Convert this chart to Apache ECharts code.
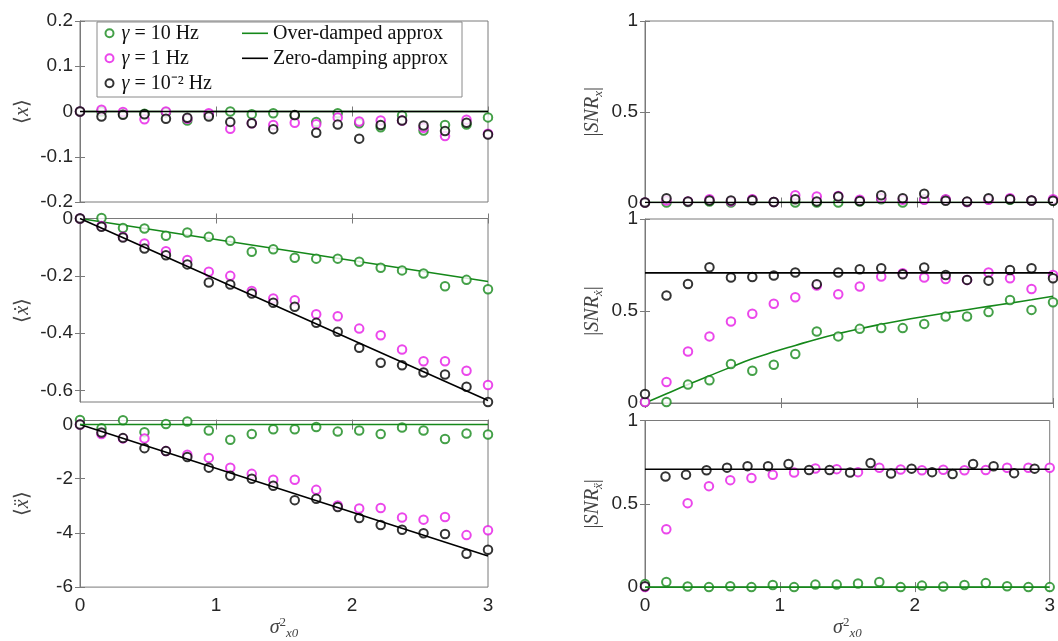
<!DOCTYPE html>
<html>
<head>
<meta charset="utf-8">
<script src="https://cdn.jsdelivr.net/npm/echarts@6/dist/echarts.min.js"></script>
<style>html,body{margin:0;padding:0;background:#fff;}#c{width:1058px;height:641px;}</style>
</head>
<body>
<div id="c"></div>
<script>
// x grid (sigma^2_x0) used by most series
const xGrid = [0,0.158,0.316,0.474,0.632,0.789,0.947,1.105,1.263,1.421,1.579,1.737,1.895,2.053,2.211,2.368,2.526,2.684,2.842,3];
// x grid of the gamma=1e-2 series in the |SNR_xddot| panel
const xGridSnrAccBlack = [0,0.152,0.304,0.456,0.608,0.76,0.912,1.064,1.216,1.368,1.52,1.672,1.824,1.976,2.128,2.28,2.432,2.584,2.736,2.888];
const xLine = [0, 3];

// <x>
const meanX_g10  = [0,0,-0.005,-0.005,-0.002,-0.02,-0.007,0,-0.006,-0.004,-0.009,-0.023,-0.004,-0.026,-0.035,-0.009,-0.042,-0.03,-0.029,-0.013];
const meanX_g1   = [0,0.004,-0.001,-0.017,0,-0.016,-0.004,-0.038,-0.026,-0.03,-0.025,-0.028,-0.013,-0.022,-0.02,-0.02,-0.036,-0.054,-0.018,-0.049];
const meanX_g001 = [0,-0.011,-0.007,-0.006,-0.016,-0.014,-0.011,-0.023,-0.026,-0.039,-0.008,-0.047,-0.029,-0.06,-0.03,-0.02,-0.031,-0.043,-0.025,-0.051];
const meanX_over = [0, 0];
const meanX_zero = [0, 0];

// <xdot>
const meanV_g10  = [0,0.002,-0.033,-0.035,-0.06,-0.049,-0.064,-0.078,-0.116,-0.107,-0.137,-0.14,-0.14,-0.151,-0.172,-0.181,-0.192,-0.236,-0.214,-0.247];
const meanV_g1   = [0,-0.026,-0.064,-0.087,-0.114,-0.145,-0.186,-0.2,-0.253,-0.279,-0.285,-0.334,-0.341,-0.384,-0.407,-0.457,-0.498,-0.498,-0.531,-0.581];
const meanV_g001 = [0,-0.029,-0.066,-0.105,-0.128,-0.16,-0.223,-0.23,-0.262,-0.294,-0.308,-0.364,-0.395,-0.451,-0.503,-0.512,-0.537,-0.544,-0.587,-0.64];
const meanV_over = [0, -0.22];
const meanV_zero = [0, -0.635];

// <xddot>
const meanA_g10  = [0.17,-0.14,0.16,-0.28,0.02,0.11,-0.22,-0.56,-0.35,-0.17,-0.17,-0.09,-0.26,-0.22,-0.35,-0.11,-0.22,-0.53,-0.33,-0.37];
const meanA_g1   = [0,-0.35,-0.51,-0.51,-0.98,-1.11,-1.23,-1.59,-1.82,-2.04,-2.04,-2.41,-2.99,-3.1,-3.08,-3.43,-3.51,-3.41,-4.08,-3.9];
const meanA_g001 = [0,-0.29,-0.5,-0.87,-0.98,-1.2,-1.59,-1.89,-2.0,-2.26,-2.79,-2.74,-3.04,-3.45,-3.71,-3.88,-4.01,-4.04,-4.77,-4.62];
const meanA_over = [0, 0];
const meanA_zero = [0, -4.85];

// |SNR_x|
const snrX_g10  = [0,0,0.003,0.005,0,0.015,0.003,0,0,0,0.005,0.018,0,0.018,0.015,0.003,0.018,0.015,0.011,0.011];
const snrX_g1   = [0,0.011,0.006,0.018,0.006,0.018,0.003,0.04,0.033,0.036,0.015,0.024,0.015,0.015,0.018,0.003,0.015,0.024,0.011,0.018];
const snrX_g001 = [0,0.024,0.006,0.011,0.011,0.012,0.003,0.018,0.006,0.033,0.008,0.04,0.024,0.048,0.01,0.005,0.024,0.018,0.011,0.01];
const snrX_over = [0, 0];
const snrX_zero = [0, 0];

// |SNR_xdot|
const snrV_g10  = [0.005,0.005,0.1,0.123,0.212,0.175,0.208,0.266,0.389,0.362,0.403,0.407,0.407,0.43,0.47,0.47,0.494,0.56,0.506,0.548];
const snrV_g1   = [0.005,0.114,0.28,0.362,0.443,0.485,0.539,0.575,0.638,0.591,0.633,0.687,0.705,0.682,0.674,0.669,0.709,0.678,0.62,0.696];
const snrV_g001 = [0.049,0.584,0.647,0.738,0.682,0.685,0.693,0.709,0.646,0.709,0.727,0.732,0.7,0.736,0.696,0.669,0.665,0.723,0.732,0.678];
const snrV_over = [0,0.05,0.1,0.148,0.195,0.24,0.278,0.313,0.347,0.377,0.404,0.428,0.45,0.47,0.489,0.507,0.525,0.543,0.561,0.58];
const snrV_zero = [0.707, 0.707];

// |SNR_xddot|
const snrA_g10  = [0.018,0.031,0.004,0,0.005,0,0.013,0,0.015,0.015,0.022,0.031,0,0.009,0.004,0.013,0.024,0.005,0,0];
const snrA_g1   = [0,0.347,0.504,0.606,0.642,0.655,0.674,0.688,0.712,0.708,0.69,0.716,0.706,0.701,0.704,0.701,0.703,0.716,0.716,0.716];
const snrA_g001 = [0.005,0.664,0.675,0.701,0.717,0.726,0.726,0.739,0.703,0.703,0.688,0.745,0.682,0.711,0.69,0.679,0.739,0.725,0.684,0.711];
const snrA_over = [0, 0];
const snrA_zero = [0.707, 0.707];

// tick labels
const xTicks = [0, 1, 2, 3];
const yTicksMeanX = [-0.2, -0.1, 0, 0.1, 0.2];
const yTicksMeanV = [-0.6, -0.4, -0.2, 0];
const yTicksMeanA = [-6, -4, -2, 0];
const yTicksSnr = [0, 0.5, 1];

const names = ['γ = 10 Hz', 'γ = 1 Hz', 'γ = 10⁻² Hz', 'Over-damped approx', 'Zero-damping approx'];
const GREEN = '#15881a', MAG = '#e619e6', BLK = '#000000';
const AX = '#7a7a7a', TXT = '#262626';

const zip = (xs, ys) => ys.map((y, i) => [xs[i], y]);

const gridDefs = [
  {left: 80, top: 21, width: 408, height: 181},
  {left: 80, top: 218.5, width: 408, height: 183.5},
  {left: 80, top: 420.5, width: 408, height: 183},
  {left: 645, top: 21, width: 408, height: 181.5},
  {left: 645, top: 219, width: 408, height: 184},
  {left: 645, top: 420.5, width: 408, height: 183}
];
const yDefs = [
  {min: -0.2, max: 0.2, ticks: yTicksMeanX, name: '⟨{i|x}⟩', gap: 45},
  {min: -0.64, max: 0, ticks: yTicksMeanV, name: '⟨{i|ẋ}⟩', gap: 45},
  {min: -6, max: 0.15, ticks: yTicksMeanA, name: '⟨{i|ẍ}⟩', gap: 45},
  {min: 0, max: 1, ticks: yTicksSnr, name: '|{i|SNR}{sub|x}|', gap: 40},
  {min: 0, max: 1, ticks: yTicksSnr, name: '|{i|SNR}{sub|ẋ}|', gap: 40},
  {min: 0, max: 1, ticks: yTicksSnr, name: '|{i|SNR}{sub|ẍ}|', gap: 40}
];

const serif = 'Liberation Serif';
const richName = {
  i: {fontFamily: serif, fontStyle: 'italic', fontSize: 20, color: '#444', lineHeight: 24},
  sub: {fontFamily: serif, fontStyle: 'italic', fontSize: 13, color: '#444', verticalAlign: 'bottom', lineHeight: 12},
  sup: {fontFamily: serif, fontSize: 13, color: '#444', verticalAlign: 'top', lineHeight: 12}
};

const grid = gridDefs.map(g => Object.assign({show: true, borderColor: AX, borderWidth: 1, containLabel: false}, g));

const xAxis = [];
const yAxis = [];
gridDefs.forEach((g, k) => {
  const bottomRow = (k === 2 || k === 5);
  xAxis.push({
    type: 'value', gridIndex: k, min: 0, max: 3, interval: 1,
    axisLine: {lineStyle: {color: AX}},
    axisTick: {inside: true, length: 5, lineStyle: {color: AX}},
    axisLabel: {show: bottomRow, customValues: xTicks, fontFamily: 'Liberation Sans', fontSize: 19, color: TXT, margin: 9},
    splitLine: {show: false},
    name: bottomRow ? '{i|σ}{sup|2}{sub|x0}' : '',
    nameLocation: 'middle', nameGap: 22,
    nameTextStyle: {fontFamily: serif, fontSize: 20, color: '#444', rich: richName}
  });
});
gridDefs.forEach((g, k) => {
  xAxis.push({
    type: 'value', gridIndex: k, min: 0, max: 3, interval: 1, position: 'top',
    axisLine: {show: false}, axisLabel: {show: false},
    axisTick: {inside: true, length: 5, lineStyle: {color: AX}}, splitLine: {show: false}
  });
});
yDefs.forEach((d, k) => {
  yAxis.push({
    type: 'value', gridIndex: k, min: d.min, max: d.max,
    axisLine: {show: true, lineStyle: {color: AX}},
    axisTick: {show: true, inside: true, length: 5, customValues: d.ticks, lineStyle: {color: AX}},
    axisLabel: {customValues: d.ticks, fontFamily: 'Liberation Sans', fontSize: 19, color: TXT, margin: 7},
    splitLine: {show: false},
    name: d.name, nameLocation: 'middle', nameGap: d.gap,
    nameTextStyle: {fontFamily: serif, fontSize: 20, color: '#444', rich: richName}
  });
});
yDefs.forEach((d, k) => {
  yAxis.push({
    type: 'value', gridIndex: k, min: d.min, max: d.max, position: 'right',
    axisLine: {show: false}, axisLabel: {show: false},
    axisTick: {show: true, inside: true, length: 5, customValues: d.ticks, lineStyle: {color: AX}},
    splitLine: {show: false}
  });
});

const panels = [
  {g: zip(xGrid, meanX_g10), m: zip(xGrid, meanX_g1), b: zip(xGrid, meanX_g001), over: zip(xLine, meanX_over), zero: zip(xLine, meanX_zero)},
  {g: zip(xGrid, meanV_g10), m: zip(xGrid, meanV_g1), b: zip(xGrid, meanV_g001), over: zip(xLine, meanV_over), zero: zip(xLine, meanV_zero)},
  {g: zip(xGrid, meanA_g10), m: zip(xGrid, meanA_g1), b: zip(xGrid, meanA_g001), over: zip(xLine, meanA_over), zero: zip(xLine, meanA_zero), overTop: true},
  {g: zip(xGrid, snrX_g10), m: zip(xGrid, snrX_g1), b: zip(xGrid, snrX_g001), over: zip(xLine, snrX_over), zero: zip(xLine, snrX_zero)},
  {g: zip(xGrid, snrV_g10), m: zip(xGrid, snrV_g1), b: zip(xGrid, snrV_g001), over: zip(xGrid, snrV_over), zero: zip(xLine, snrV_zero)},
  {g: zip(xGrid, snrA_g10), m: zip(xGrid, snrA_g1), b: zip(xGridSnrAccBlack, snrA_g001), over: zip(xLine, snrA_over), zero: zip(xLine, snrA_zero), overTop: true}
];

const series = [];
panels.forEach((p, k) => {
  const sc = (name, color, data) => ({
    name, type: 'scatter', xAxisIndex: k, yAxisIndex: k, data, clip: false,
    symbol: 'emptyCircle', symbolSize: 8.5, z: 3,
    itemStyle: {color: color, borderColor: color, borderWidth: 1.6},
    emphasis: {disabled: true}
  });
  const ln = (name, color, data, z) => ({
    name, type: 'line', xAxisIndex: k, yAxisIndex: k, data, symbol: 'none', showSymbol: false,
    smooth: true, z: z, lineStyle: {color: color, width: 1.6}, itemStyle: {color: color},
    emphasis: {disabled: true}
  });
  series.push(sc(names[0], GREEN, p.g));
  series.push(sc(names[1], MAG, p.m));
  series.push(sc(names[2], BLK, p.b));
  series.push(ln(names[3], GREEN, p.over, p.overTop ? 5 : 2));
  series.push(ln(names[4], BLK, p.zero, 4));
});

const legendText = {
  fontFamily: serif, fontSize: 20, color: '#111', lineHeight: 20,
  rich: {
    i: {fontFamily: serif, fontStyle: 'italic', fontSize: 20, color: '#111'},
    t: {fontFamily: serif, fontSize: 20, color: '#111'}
  }
};
const legendFmt = n => n.startsWith('γ') ? '{i|γ}{t|' + n.slice(1) + '}' : n;

const option = {
  animation: false,
  backgroundColor: '#fff',
  grid, xAxis, yAxis, series,
  graphic: [{
    type: 'rect', z: 10, shape: {x: 97, y: 22, width: 365, height: 75},
    style: {fill: '#fff', stroke: '#8a8a8a', lineWidth: 1}
  }],
  legend: [
    {
      z: 20, left: 104.5, top: 23.3, orient: 'vertical', itemGap: 5, padding: 0,
      itemWidth: 14, itemHeight: 8, selectedMode: false,
      data: [names[0], names[1], names[2]],
      formatter: legendFmt, textStyle: legendText
    },
    {
      z: 20, left: 242, top: 23.3, orient: 'vertical', itemGap: 5, padding: 0,
      itemWidth: 26, itemHeight: 1.6, symbolKeepAspect: false, selectedMode: false,
      data: [{name: names[3], icon: 'rect'}, {name: names[4], icon: 'rect'}],
      formatter: legendFmt, textStyle: legendText
    }
  ]
};

const chart = echarts.init(document.getElementById('c'), null, {renderer: 'canvas'});
chart.setOption(option);
</script>
</body>
</html>
